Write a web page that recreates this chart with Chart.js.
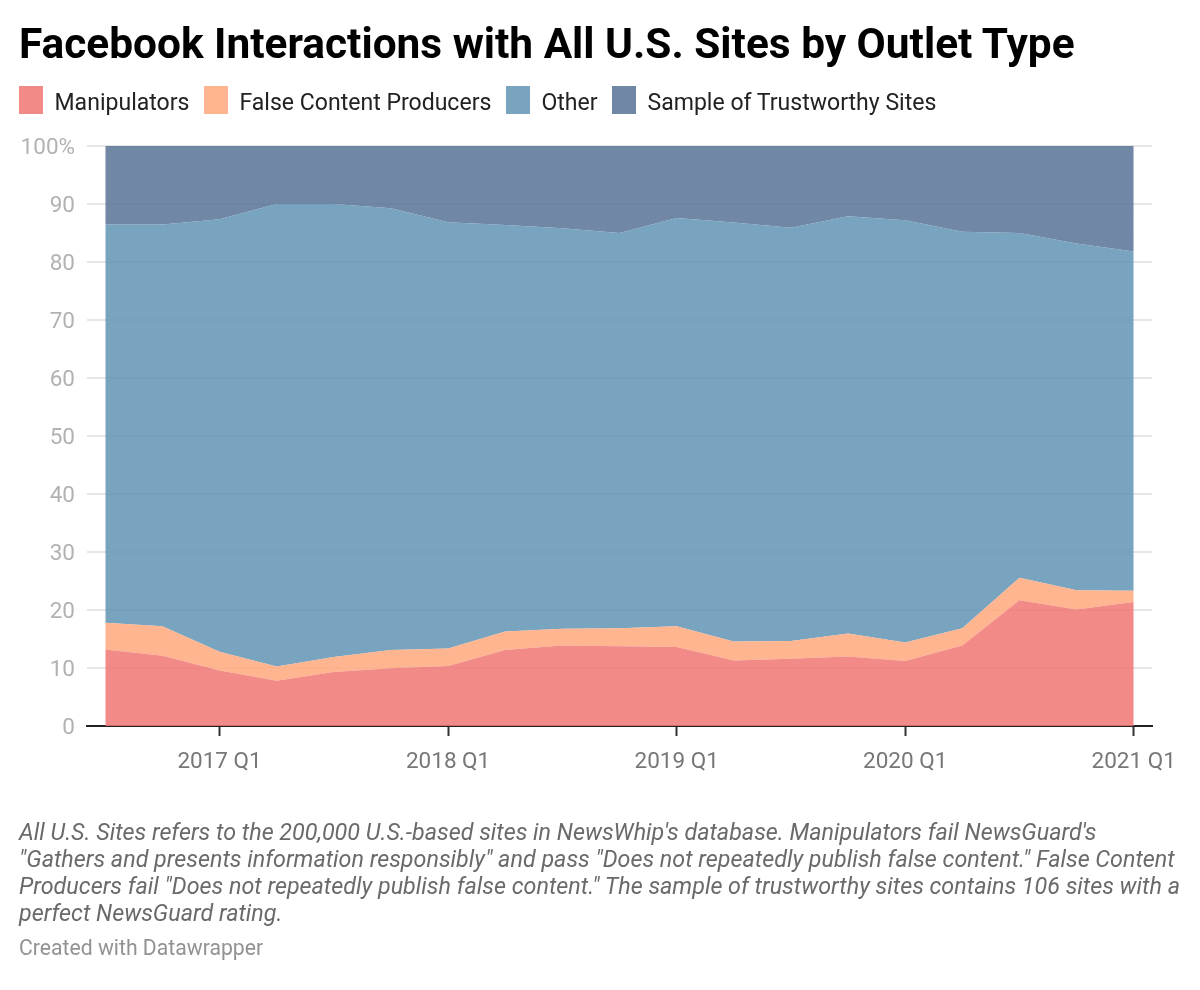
<!DOCTYPE html>
<html><head><meta charset="utf-8">
<style>
html,body{margin:0;padding:0;background:#fff;width:1200px;height:990px;overflow:hidden;font-family:Roboto,sans-serif}
#c{position:absolute;left:0;top:0}
.t{position:absolute;white-space:nowrap}
#title{left:19px;top:18px;font-size:42.4px;font-weight:700;color:#000;line-height:52px}
#legend{position:absolute;left:19px;top:86px;height:28px;display:flex;align-items:center;font-size:23.05px;color:#222}
.sw{width:24px;height:28px;display:inline-block;margin-right:11.5px}
.it{display:flex;align-items:center;margin-right:14.5px}
.lb{position:relative;top:2px}
#note{left:19px;top:819px;font-size:23.32px;font-style:italic;font-weight:400;color:#6a6a6a;line-height:27px}
#credit{left:19px;top:935px;font-size:21.2px;font-weight:400;color:#929292;line-height:26px}
</style></head><body>
<canvas id="c" width="1200" height="990"></canvas>
<div class="t" id="title">Facebook Interactions with All U.S. Sites by Outlet Type</div>
<div id="legend"></div>
<div class="t" id="note">All U.S. Sites refers to the 200,000 U.S.-based sites in NewsWhip's database. Manipulators fail NewsGuard's<br>"Gathers and presents information responsibly" and pass "Does not repeatedly publish false content." False Content<br>Producers fail "Does not repeatedly publish false content." The sample of trustworthy sites contains 106 sites with a<br>perfect NewsGuard rating.</div>
<div class="t" id="credit">Created with Datawrapper</div>
<script src="https://cdn.jsdelivr.net/npm/chart.js@4"></script>
<script>
const quarters=["2016 Q3","2016 Q4","2017 Q1","2017 Q2","2017 Q3","2017 Q4","2018 Q1","2018 Q2","2018 Q3","2018 Q4","2019 Q1","2019 Q2","2019 Q3","2019 Q4","2020 Q1","2020 Q2","2020 Q3","2020 Q4","2021 Q1"];
const labelledQuarters=["2017 Q1","2018 Q1","2019 Q1","2020 Q1","2021 Q1"];
const manipulators=[13.2,12.1,9.55,7.8,9.3,9.95,10.35,13.1,13.9,13.75,13.6,11.3,11.6,12.0,11.2,13.9,21.7,20.1,21.4];
const falseContent=[4.6,5.1,3.25,2.45,2.6,3.15,3.0,3.2,2.85,3.1,3.6,3.25,3.05,3.95,3.2,2.95,3.85,3.3,1.9];
const other=[68.65,69.25,74.56,79.75,78.1,76.15,73.49,70.1,69.05,68.15,70.4,72.25,71.25,71.95,72.8,68.35,59.45,59.8,58.5];
const trustworthy=[13.55,13.55,12.64,10.0,10.0,10.75,13.16,13.6,14.2,15.0,12.4,13.2,14.1,12.1,12.8,14.8,15.0,16.8,18.2];
const seriesNames=["Manipulators","False Content Producers","Other","Sample of Trustworthy Sites"];
const seriesValues=[manipulators,falseContent,other,trustworthy];
const fillColors=["rgba(240,117,115,.85)","rgba(255,168,124,.85)","rgba(96,148,180,.85)","rgba(87,114,150,.85)"];
const swatchColors=["#f28a88","#ffb590","#78a4bf","#7087a6"];

const legend=document.getElementById('legend');
seriesNames.forEach((n,i)=>{
  const it=document.createElement('span');it.className='it';
  const s=document.createElement('span');s.className='sw';s.style.background=swatchColors[i];
  const l=document.createElement('span');l.className='lb';l.textContent=n;
  it.appendChild(s);it.appendChild(l);legend.appendChild(it);
});

document.fonts.load('22px Roboto').finally(()=>{
new Chart(document.getElementById('c'),{
  type:'line',
  data:{datasets:seriesNames.map((n,i)=>({
    label:n,
    data:seriesValues[i].map((v,k)=>({x:k,y:v})),
    fill:i===0?'origin':'-1',
    backgroundColor:fillColors[i],
    borderWidth:0,pointRadius:0,tension:0
  }))},
  options:{
    responsive:false,animation:false,devicePixelRatio:1,
    layout:{padding:{left:0,right:48,top:146,bottom:214}},
    plugins:{legend:{display:false},tooltip:{enabled:false}},
    scales:{
      x:{type:'linear',min:-0.32,max:18.32,
        afterBuildTicks(s){s.ticks=labelledQuarters.map(q=>({value:quarters.indexOf(q)}));},
        afterFit(s){s.height=50;},
        border:{display:true,color:'#222',width:2},
        grid:{drawOnChartArea:false,drawTicks:true,tickLength:10,tickColor:'#333',tickWidth:2},
        ticks:{autoSkip:false,maxRotation:0,padding:13,color:'#777',
          font:{family:'Roboto',size:22.5,weight:'400'},
          callback:v=>quarters[v]}
      },
      y:{stacked:true,min:0,max:100,
        afterFit(s){
          s.width=87;
          const orig=s._computeLabelItems;
          s._computeLabelItems=function(a){
            const items=orig.call(this,a);
            items.forEach(it=>{it.options.translation=[it.options.translation[0],it.options.translation[1]+1];});
            return items;
          };
        },
        border:{display:false},
        grid:{color:'#e6e6e6',lineWidth:2,drawTicks:false},
        ticks:{stepSize:10,padding:12,color:'#b2b2b2',
          font:{family:'Roboto',size:22.5,weight:'400'},
          callback:v=>v===100?'100%':String(v)}
      }
    }
  }
});
});
</script>
</body></html>
